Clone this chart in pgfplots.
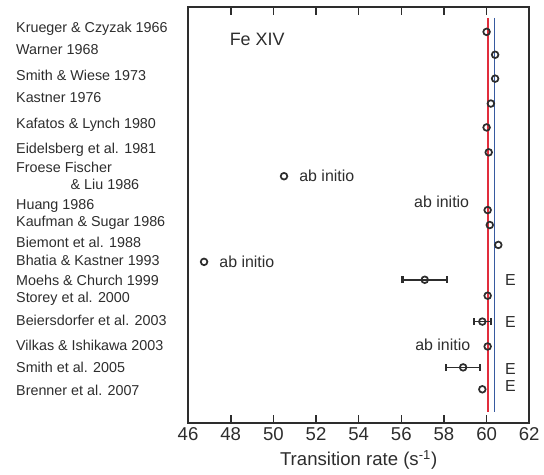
\documentclass[border=0pt]{standalone}
\usepackage{fontspec}
\setmainfont{Liberation Sans}
\usepackage{pgfplots}
\pgfplotsset{compat=1.18}
\definecolor{refred}{RGB}{225,45,60}
\definecolor{refblue}{RGB}{55,90,160}
\definecolor{ink}{RGB}{45,45,45}
\begin{document}
\begin{tikzpicture}
\begin{axis}[
  scale only axis,
  width=257pt, height=313.5pt,
  xmin=46, xmax=62, ymin=7, ymax=425,
  y dir=reverse,
  xtick={46,48,...,62},
  tick align=inside,
  major tick length=6pt,
  tick style={line width=1.2pt, ink},
  axis line style={line width=1.2pt, ink},
  /pgf/number format/assume math mode=true,
  xticklabel style={font=\fontsize{14}{14}\selectfont, text=ink},
  ytick={29,50,76,98,125,150,177,207,224,243,262,282,300,322,347,369,392},
  yticklabels={Krueger \& Czyzak 1966, Warner 1968, Smith \& Wiese 1973,
    Kastner 1976, Kafatos \& Lynch 1980, Eidelsberg et al. 1981,
    {Froese Fischer\\\hspace*{3.8em}\& Liu 1986}, Huang 1986,
    Kaufman \& Sugar 1986, Biemont et al. 1988, Bhatia \& Kastner 1993,
    Moehs \& Church 1999, Storey et al. 2000, Beiersdorfer et al. 2003,
    Vilkas \& Ishikawa 2003, Smith et al. 2005, Brenner et al. 2007},
  ytick style={draw=none},
  yticklabel style={anchor=west, align=left, xshift=-133pt,
    font=\fontsize{10.8}{12.8}\selectfont, text=ink},
  xlabel={Transition rate (s\textsuperscript{-1})},
  xlabel style={font=\fontsize{14}{14}\selectfont, text=ink},
  clip=false,
]
% page extent of the reference
\path (axis cs:37.18,0) rectangle (axis cs:62.56,477);
% reference lines
\addplot[refred, line width=1.3pt] coordinates {(60.05,18) (60.05,414)};
\addplot[refblue, line width=1.3pt] coordinates {(60.37,18) (60.37,414)};
% values without error bars
\addplot[only marks, mark=o, mark size=2.5pt, line width=1.3pt, ink] coordinates {
  (60.0,32) (60.4,55) (60.4,79) (60.2,104) (60.0,128) (60.1,153)
  (50.5,177) (60.05,211) (60.15,226) (60.55,246) (46.75,263)
  (60.05,297) (60.05,348) (59.8,391)
};
% values with error bars
\addplot[only marks, mark=o, mark size=2.5pt, line width=1.3pt, ink,
  error bars/.cd, x dir=both, x explicit,
  error bar style={line width=1.2pt, ink},
  error mark options={mark size=2.5pt, line width=1.8pt, ink, rotate=90}]
  coordinates {
  (57.1,281) +- (1.05,0)
  (59.8,323) +- (0.4,0)
  (58.9,369) +- (0.8,0)
};
\node[font=\fontsize{13.5}{14}\selectfont, text=ink] at (axis cs:49.24,40) {Fe XIV};
\begin{scope}[every node/.style={font=\fontsize{12}{12}\selectfont, text=ink}]
\node[anchor=west] at (axis cs:51.0,177) {ab initio};
\node[anchor=east] at (axis cs:59.4,203) {ab initio};
\node[anchor=west] at (axis cs:47.25,263) {ab initio};
\node[anchor=east] at (axis cs:59.45,346) {ab initio};
\node at (axis cs:61.12,281) {E};
\node at (axis cs:61.12,323) {E};
\node at (axis cs:61.12,371) {E};
\node at (axis cs:61.12,388) {E};
\end{scope}
\end{axis}
\end{tikzpicture}
\end{document}
